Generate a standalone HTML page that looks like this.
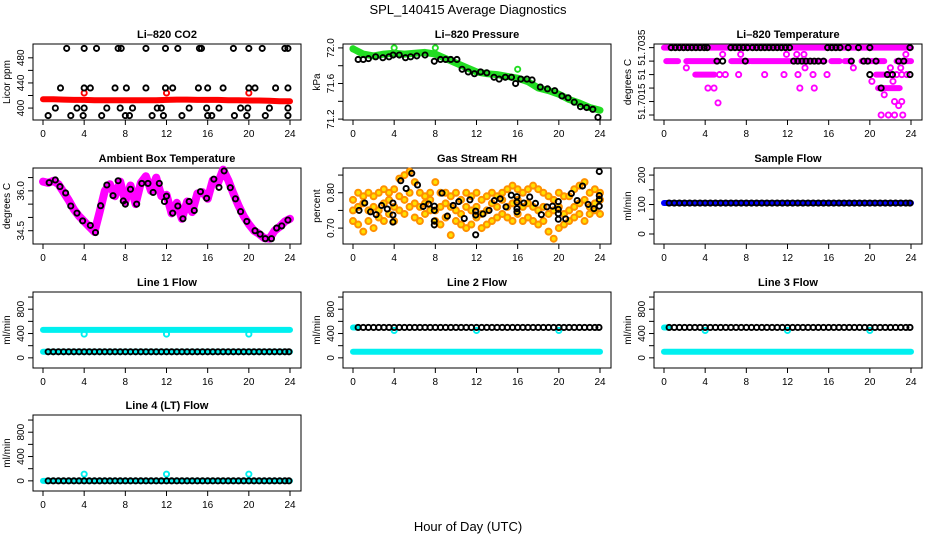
<!DOCTYPE html>
<html><head><meta charset="utf-8"><style>
html,body{margin:0;padding:0;background:#fff;}
svg{display:block;font-family:"Liberation Sans",Arial,sans-serif;}
</style></head><body>
<svg id="chart" width="936" height="540" viewBox="0 0 936 540" xmlns="http://www.w3.org/2000/svg">
<text x="468" y="14" text-anchor="middle" font-size="13">SPL_140415  Average Diagnostics</text>
<text x="468" y="531" text-anchor="middle" font-size="13">Hour of Day (UTC)</text>
</svg>
<script>
// ---------- data ----------
const xTicks=[0,4,8,12,16,20,24];
// CO2
const co2RedH=[0,1,2,3,4,5,6,7,8,9,10,11,12,13,14,15,16,17,18,19,20,21,22,23,24];
const co2RedV=[414,414,413.5,413,413,412.5,412.5,412.5,412.5,412.5,412.5,412.5,413,413.5,413.5,413,413,413,412.5,412.5,412,412,411.5,411,411];
const co2RedPtH=[4,12,20];
const co2RedPtV=[424,424,424];
const co2BlkH=[2.3,4.0,5.2,7.3,7.6,10.0,11.9,13.1,15.2,15.4,18.5,20.0,21.3,23.5,23.8,
 1.7,4.0,4.6,7.0,8.1,10.0,11.9,12.6,15.1,16.0,17.5,20.0,20.6,22.6,23.8,
 1.2,3.3,4.0,6.2,7.5,8.7,11.1,11.5,14.2,15.9,17.1,19.2,19.9,22.0,23.8,
 0.5,2.7,3.9,5.7,8.0,8.4,10.6,11.7,13.5,16.0,16.4,18.6,19.8,21.6,23.8];
const co2BlkV=[495,495,495,495,495,495,495,495,495,495,495,495,495,495,495,
 432,432,432,432,432,432,432,432,432,432,432,432,432,432,432,
 400,400,400,400,400,400,400,400,400,400,400,400,400,400,400,
 388,388,388,388,388,388,388,388,388,388,388,388,388,388,388];
// Pressure
const presGrnH=[0,1,2,3,4,5,6,7,8,9,10,11,12,13,14,15,16,17,18,19,20,21,22,23,24];
const presGrnV=[71.99,71.93,71.91,71.93,71.94,71.93,71.94,71.95,71.93,71.88,71.83,71.78,71.73,71.71,71.70,71.68,71.66,71.62,71.55,71.52,71.48,71.42,71.38,71.33,71.30];
const presSpikeH=[0,4,8,16];
const presSpikeV=[71.99,72.0,72.0,71.76];
const presBlkH=[0.5,1,1.5,2.2,2.9,3.5,3.9,4.5,5.1,5.6,6.2,7.0,7.9,8.5,9.0,9.5,10.1,10.6,11.2,11.8,12.4,13.0,13.7,14.2,14.8,15.4,15.8,16.3,16.9,17.4,18.2,18.9,19.6,20.3,20.9,21.5,22.1,22.7,23.3,23.8];
const presBlkV=[71.87,71.87,71.88,71.90,71.89,71.90,71.92,71.92,71.89,71.90,71.91,71.92,71.85,71.87,71.87,71.87,71.87,71.76,71.73,71.71,71.73,71.72,71.67,71.65,71.67,71.67,71.60,71.65,71.65,71.64,71.56,71.54,71.52,71.46,71.44,71.39,71.34,71.33,71.31,71.22];
// Li-820 temperature (levels)
const tempTickLabels=["","51.7015","","51","","51.7035"];
const tempRunStart=[0,0.22,2.17,6.54,8.48,12.53,16.26,17.56,19.2,22.6,3.04,20.6,20.8];
const tempRunEnd=[24,1.36,5.25,8.33,12.37,15.6,17.07,18.2,21.4,24,4.9,21.4,22.9];
const tempRunLvl=[5,4,4,4,4,4,4,4,4,4,3,3,2];
const tempMagH=[5.4,5.96,7.25,9.78,11.66,13.02,14.48,15.84,22.0,22.6,23.1,23.6,4.27,4.86,13.2,14.6,5.25,22.4,23.1,21.1,21.8,22.4,23.2,5.7,7.45,11.9,12.9,13.6,23.5,2.17,13.7,18.4,22.0,23.0,20.2,22.25,21.4,22.8];
const tempMagL=[3,3,3,3,3,3,3,3,3,3,3,3,2,2,2,2,0.9,1,1,0,0,0,0,4.5,4.5,4.5,4.5,4.5,4.5,3.5,3.5,3.5,3.5,3.5,2.5,2.5,1.5,0.7];
const tempBlkH=[0.7,1.1,1.5,1.9,2.3,2.7,3.1,3.5,3.9,4.2,6.5,6.9,7.3,7.7,8.1,8.6,9.0,9.4,9.8,10.2,10.6,11.0,11.4,11.8,12.2,15.9,16.3,16.7,17.1,17.9,18.9,20.0,23.9,
 5.15,5.7,7.9,12.6,13.0,13.4,13.8,14.2,14.6,15.0,15.5,18.2,19.4,19.8,20.6,22.8,23.3,
 20.0,21.7,22.2,23.9,21.1];
const tempBlkL=[5,5,5,5,5,5,5,5,5,5,5,5,5,5,5,5,5,5,5,5,5,5,5,5,5,5,5,5,5,5,5,5,5,
 4,4,4,4,4,4,4,4,4,4,4,4,4,4,4,4,4,
 3,3,3,3,2];
// Ambient box temperature
const ambMagH=[0,0.5,1,1.5,2,2.5,3,3.5,4,4.5,5,5.5,6,6.5,7,7.5,8,8.5,9,9.5,10,10.5,11,11.5,12,12.5,13,13.5,14,14.5,15,15.5,16,16.5,17,17.5,18,18.5,19,19.5,20,20.5,21,21.5,22,22.5,23,23.5,24];
const ambMagV=[36.35,36.3,36.38,36.25,35.95,35.65,35.3,35.05,34.85,34.65,34.45,35.2,36.0,36.25,35.8,36.35,35.6,36.2,35.5,36.3,36.55,36.0,36.5,35.8,35.85,35.15,35.55,34.95,35.6,35.2,35.9,35.95,35.7,36.4,36.3,36.8,36.4,35.9,35.45,35.05,34.75,34.5,34.38,34.22,34.2,34.5,34.65,34.85,34.95];
const ambBlkH=[0.6,1.2,1.65,2.2,2.7,3.3,3.85,4.6,5.1,5.6,6.2,6.8,7.3,7.8,8.0,8.5,9.1,9.6,10.2,10.7,11.3,11.8,12.0,12.6,13.1,13.6,14.2,14.7,15.3,15.9,16.6,17.1,17.6,18.2,18.7,19.2,19.8,20.6,21.1,21.6,22.2,22.7,23.2,23.8];
const ambBlkV=[36.31,36.41,36.16,35.92,35.43,35.16,34.87,34.7,34.43,35.44,36.22,35.82,36.38,35.62,35.5,36.06,35.5,36.28,36.28,35.94,36.28,35.6,35.8,35.16,35.43,34.95,35.6,35.26,35.97,35.72,36.44,36.13,36.75,36.12,35.70,35.22,34.85,34.5,34.37,34.2,34.2,34.6,34.68,34.9];
// Gas stream RH
const rhGridH=[0,0.5,1,1.5,2,2.5,3,3.5,4,4.5,5,5.5,6,6.5,7,7.5,8,8.5,9,9.5,10,10.5,11,11.5,12,12.5,13,13.5,14,14.5,15,15.5,16,16.5,17,17.5,18,18.5,19,19.5,20,20.5,21,21.5,22,22.5,23,23.5,24];
const rhA=[0.78,0.80,0.79,0.80,0.79,0.80,0.81,0.80,0.81,0.84,0.85,0.86,0.83,0.80,0.79,0.80,0.83,0.80,0.80,0.79,0.80,0.78,0.80,0.79,0.80,0.78,0.79,0.80,0.79,0.80,0.81,0.82,0.81,0.80,0.81,0.82,0.81,0.80,0.79,0.78,0.80,0.79,0.79,0.81,0.82,0.83,0.80,0.81,0.80];
const rhB=[0.75,0.76,0.77,0.75,0.76,0.75,0.77,0.78,0.76,0.79,0.78,0.80,0.77,0.76,0.77,0.78,0.75,0.76,0.77,0.76,0.75,0.74,0.76,0.75,0.76,0.74,0.75,0.77,0.76,0.78,0.76,0.77,0.78,0.76,0.77,0.76,0.75,0.76,0.74,0.75,0.76,0.74,0.75,0.76,0.77,0.78,0.76,0.77,0.78];
const rhC=[0.72,0.71,0.69,0.72,0.70,0.73,0.72,0.74,0.72,0.75,0.74,0.76,0.73,0.72,0.74,0.75,0.72,0.71,0.73,0.68,0.72,0.71,0.70,0.71,0.73,0.70,0.71,0.72,0.73,0.74,0.73,0.72,0.74,0.72,0.73,0.72,0.71,0.72,0.69,0.67,0.70,0.71,0.72,0.73,0.74,0.72,0.74,0.75,0.74];
const rhBlkH=[0.59,1.14,1.7,2.25,2.78,3.33,3.88,3.88,3.88,4.64,5.16,5.71,6.27,6.82,7.35,7.9,7.9,7.9,7.9,8.65,9.17,9.73,10.28,10.81,11.36,11.92,11.92,11.92,12.63,13.22,13.74,14.3,14.86,15.38,15.93,15.93,15.93,15.93,16.6,17.17,17.73,18.3,18.84,19.39,19.95,19.95,19.95,19.95,20.66,21.22,21.78,22.3,22.85,23.41,23.93,23.93,23.93,23.93];
const rhBlkV=[0.75,0.771,0.746,0.738,0.764,0.754,0.771,0.737,0.717,0.834,0.812,0.855,0.822,0.761,0.768,0.762,0.75,0.72,0.709,0.799,0.734,0.764,0.775,0.727,0.78,0.748,0.737,0.681,0.74,0.75,0.778,0.783,0.76,0.793,0.789,0.773,0.755,0.746,0.771,0.788,0.77,0.738,0.760,0.762,0.775,0.753,0.741,0.725,0.726,0.798,0.778,0.819,0.767,0.755,0.762,0.792,0.781,0.86];
// Flows
const flowBlkH=[0.5,1.0,1.5,2.0,2.5,3.0,3.5,4.0,4.5,5.0,5.5,6.0,6.5,7.0,7.5,8.0,8.5,9.0,9.5,10.0,10.5,11.0,11.5,12.0,12.5,13.0,13.5,14.0,14.5,15.0,15.5,16.0,16.5,17.0,17.5,18.0,18.5,19.0,19.5,20.0,20.5,21.0,21.5,22.0,22.5,23.0,23.5,23.9];
const sampleBlue=105, sampleBlk=105;
const line1Cyan=[460,100], line1Blk=100, line1CyanPtV=[390,390,390];
const line2Cyan=[500,100], line2Blk=500, line2CyanPtV=[450,450,450];
const line3Cyan=[500,100], line3Blk=500, line3CyanPtV=[450,450,450];
const line4Cyan=[0], line4Blk=0, line4CyanPtV=[110,110,110];
const calibH=[4,12,20];

// ---------- layout ----------
const svg=document.getElementById('chart');
const NS='http://www.w3.org/2000/svg';
const cols=[33,343,654], rows=[44,168,292,415], W=268, H=76;
function mk(tag,attrs,parent){const e=document.createElementNS(NS,tag);for(const k in attrs)e.setAttribute(k,attrs[k]);(parent||svg).appendChild(e);return e;}
function makePanel(p){
  const g=mk('g',{});
  
  
  const L=cols[p.c],T=rows[p.r];
  p.x=h=>L+10+h*(247/24);
  p.y=v=>T+H-(v-p.ymin)/(p.ymax-p.ymin)*H;
  p.g=g;
  const box=mk('rect',{x:L,y:T,width:W,height:H,fill:'none',stroke:'#000','stroke-width':1},g);
  
  
  const t=mk('text',{x:L+W/2,y:T-6,'text-anchor':'middle','font-size':11,'font-weight':'bold'},g);
  t.textContent=p.title;
  
  
  const xa=mk('g',{},g);
  
  
  mk('line',{x1:p.x(xTicks[0]),x2:p.x(xTicks[xTicks.length-1]),y1:T+H,y2:T+H,stroke:'#000'},xa);
  xTicks.forEach(v=>{
    mk('line',{x1:p.x(v),x2:p.x(v),y1:T+H,y2:T+H+5,stroke:'#000'},xa);
    const tl=mk('text',{x:p.x(v),y:T+H+17,'text-anchor':'middle','font-size':10},xa);
    tl.textContent=v;
    
    
  });
  const ya=mk('g',{},g);
  
  
  mk('line',{x1:L,x2:L,y1:p.y(p.ticks[0]),y2:p.y(p.ticks[p.ticks.length-1]),stroke:'#000'},ya);
  p.ticks.forEach((v,i)=>{
    mk('line',{x1:L-5,x2:L,y1:p.y(v),y2:p.y(v),stroke:'#000'},ya);
    const lab=p.labels[i];
    if(lab){
      const yy=p.y(v), xx=L-9;
      const tl=mk('text',{x:xx,y:yy,'text-anchor':'middle','font-size':10,transform:`rotate(-90 ${xx} ${yy})`},ya);
      tl.textContent=lab;
      
      
    }
  });
  const yl=mk('text',{x:L-23,y:T+H/2,'text-anchor':'middle','font-size':10,transform:`rotate(-90 ${L-23} ${T+H/2})`},g);
  yl.textContent=p.ylab;
  
  
  return p;
}
function pts(p,hs,vs,color,name,fill,r,sw){
  const g=mk('g',{},p.g);
  
  
  hs.forEach((h,i)=>{
    const c=mk('circle',{cx:p.x(h),cy:p.y(vs[i]),r:r||2.6,fill:fill||'none',stroke:color,'stroke-width':sw||1.9},g);
    
    
  });
}
function band(p,hs,vs,color,name,w){
  const d=hs.map((h,i)=>(i?'L':'M')+p.x(h).toFixed(1)+' '+p.y(vs[i]).toFixed(1)).join(' ');
  const e=mk('path',{d:d,fill:'none',stroke:color,'stroke-width':w||6,'stroke-linecap':'round','stroke-linejoin':'round'},p.g);
  
  
}
function hline(p,h1,h2,v,color,name,w){
  const e=mk('line',{x1:p.x(h1),x2:p.x(h2),y1:p.y(v),y2:p.y(v),stroke:color,'stroke-width':w||6,'stroke-linecap':'round'},p.g);
  
  
}

let p=makePanel({name:'panel-co2',c:0,r:0,title:'Li–820 CO2',ylab:'Licor ppm',ymin:381,ymax:502,ticks:[400,420,440,460,480],labels:['400','','440','','480']});
band(p,co2RedH,co2RedV,'#ff0000','co2-red-series',6);
pts(p,co2RedPtH,co2RedPtV,'#ff0000','co2-red-points');
pts(p,co2BlkH,co2BlkV,'#000','co2-black-points');

p=makePanel({name:'panel-pressure',c:1,r:0,title:'Li–820 Pressure',ylab:'kPa',ymin:71.19,ymax:72.044,ticks:[71.2,71.4,71.6,71.8,72.0],labels:['71.2','','71.6','','72.0']});
band(p,presGrnH,presGrnV,'#22dd22','pressure-green-series',7);
pts(p,presSpikeH,presSpikeV,'#22dd22','pressure-green-spikes');
pts(p,presBlkH,presBlkV,'#000','pressure-black-points');

p=makePanel({name:'panel-li820-temperature',c:2,r:0,title:'Li–820 Temperature',ylab:'degrees C',ymin:-0.37,ymax:5.27,ticks:[0,1,2,3,4,5],labels:tempTickLabels});
tempRunStart.forEach((s,i)=>{hline(p,s,tempRunEnd[i],tempRunLvl[i],'#ff00ff','temp-magenta-run',6);});
pts(p,tempMagH,tempMagL,'#ff00ff','temp-magenta-points');
pts(p,tempBlkH,tempBlkL,'#000','temp-black-points');

p=makePanel({name:'panel-ambient-temperature',c:0,r:1,title:'Ambient Box Temperature',ylab:'degrees C',ymin:34.0,ymax:36.86,ticks:[34.5,35,35.5,36,36.5],labels:['34.5','','','36.0','']});
band(p,ambMagH,ambMagV,'#ff00ff','ambient-magenta-series',8);
pts(p,ambBlkH,ambBlkV,'#000','ambient-black-points');

p=makePanel({name:'panel-gas-rh',c:1,r:1,title:'Gas Stream RH',ylab:'percent',ymin:0.655,ymax:0.87,ticks:[0.7,0.75,0.8,0.85],labels:['0.70','','0.80','']});
pts(p,rhGridH,rhA,'#ff9000','rh-orange-upper','#ffe000',3,2);
pts(p,rhGridH,rhB,'#ff9000','rh-orange-middle','#ffe000',3,2);
pts(p,rhGridH,rhC,'#ff9000','rh-orange-lower','#ffe000',3,2);
pts(p,rhBlkH,rhBlkV,'#000','rh-black-points');

p=makePanel({name:'panel-sample-flow',c:2,r:1,title:'Sample Flow',ylab:'ml/min',ymin:-34,ymax:224,ticks:[0,50,100,150,200],labels:['0','','100','','200']});
hline(p,0,24,sampleBlue,'#0000ff','sample-blue-series',6);
pts(p,flowBlkH,flowBlkH.map(()=>sampleBlk),'#000','sample-black-points');

const flowTicks=[0,200,400,600,800,1000], flowLabels=['0','','400','','800',''];
function flowPanel(name,c,r,title,cyan,blk,cyanPt){
  const q=makePanel({name:name,c:c,r:r,title:title,ylab:'ml/min',ymin:-167,ymax:1083,ticks:flowTicks,labels:flowLabels});
  hline(q,0,cyan.length>1&&cyan[0]>=500?0.4:24,cyan[0],'#00f0f0','cyan-series',6);
  if(cyan.length>1) hline(q,0,24,cyan[1],'#00f0f0','cyan-series-low',6);
  pts(q,calibH,cyanPt,'#00f0f0','cyan-points');
  pts(q,flowBlkH,flowBlkH.map(()=>blk),'#000','black-points');
}
flowPanel('panel-line1-flow',0,2,'Line 1 Flow',line1Cyan,line1Blk,line1CyanPtV);
flowPanel('panel-line2-flow',1,2,'Line 2 Flow',line2Cyan,line2Blk,line2CyanPtV);
flowPanel('panel-line3-flow',2,2,'Line 3 Flow',line3Cyan,line3Blk,line3CyanPtV);
flowPanel('panel-line4-flow',0,3,'Line 4 (LT) Flow',line4Cyan,line4Blk,line4CyanPtV);
</script>
</body></html>
